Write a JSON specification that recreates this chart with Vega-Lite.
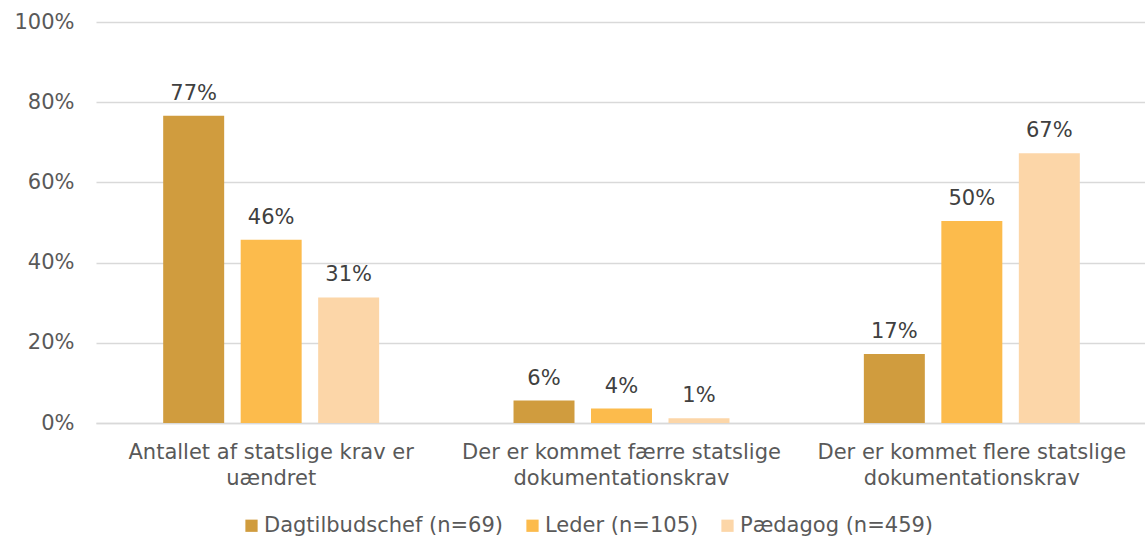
{
  "$schema": "https://vega.github.io/schema/vega-lite/v6.json",
  "autosize": {"type": "none"},
  "padding": {"left": 96, "top": 22, "right": 0, "bottom": 134},
  "width": 1051,
  "height": 401,
  "background": "white",
  "config": {
    "font": "DejaVu Sans",
    "view": {"stroke": null},
    "axis": {"labelColor": "#595959", "labelFont": "DejaVu Sans", "labelFontSize": 21},
    "legend": {"labelColor": "#595959", "labelFont": "DejaVu Sans", "labelFontSize": 21}
  },
  "data": {
    "values": [
      {"cat": "Antallet af statslige krav er|uændret", "grp": "Dagtilbudschef (n=69)", "v": 0.766},
      {"cat": "Antallet af statslige krav er|uændret", "grp": "Leder (n=105)", "v": 0.457},
      {"cat": "Antallet af statslige krav er|uændret", "grp": "Pædagog (n=459)", "v": 0.313},
      {"cat": "Der er kommet færre statslige|dokumentationskrav", "grp": "Dagtilbudschef (n=69)", "v": 0.056},
      {"cat": "Der er kommet færre statslige|dokumentationskrav", "grp": "Leder (n=105)", "v": 0.036},
      {"cat": "Der er kommet færre statslige|dokumentationskrav", "grp": "Pædagog (n=459)", "v": 0.012},
      {"cat": "Der er kommet flere statslige|dokumentationskrav", "grp": "Dagtilbudschef (n=69)", "v": 0.172},
      {"cat": "Der er kommet flere statslige|dokumentationskrav", "grp": "Leder (n=105)", "v": 0.504},
      {"cat": "Der er kommet flere statslige|dokumentationskrav", "grp": "Pædagog (n=459)", "v": 0.673}
    ]
  },
  "encoding": {
    "x": {
      "field": "cat", "type": "nominal", "sort": null,
      "scale": {"paddingInner": 0, "paddingOuter": 0},
      "axis": {
        "title": null, "labelAngle": 0, "ticks": false, "domain": true,
        "domainColor": "#d9d9d9", "domainWidth": 1.5,
        "labelExpr": "split(datum.label, '|')", "labelLineHeight": 26,
        "labelPadding": 18, "labelLimit": 400
      }
    },
    "xOffset": {"field": "grp", "type": "nominal", "sort": null,
      "scale": {"paddingInner": 0.213, "paddingOuter": 0.867}},
    "y": {
      "field": "v", "type": "quantitative",
      "scale": {"domain": [0, 1], "nice": false},
      "axis": {
        "title": null, "format": ".0%", "values": [0, 0.2, 0.4, 0.6, 0.8, 1],
        "domain": false, "ticks": false, "labelPadding": 22,
        "gridColor": "#d9d9d9", "gridWidth": 1.5
      }
    }
  },
  "layer": [
    {
      "mark": {"type": "bar"},
      "encoding": {
        "color": {
          "field": "grp", "type": "nominal", "sort": null,
          "scale": {
            "domain": ["Dagtilbudschef (n=69)", "Leder (n=105)", "Pædagog (n=459)"],
            "range": ["#D09C3E", "#FCBB4C", "#FCD6A8"]
          },
          "legend": {
            "title": null, "orient": "none", "direction": "horizontal",
            "legendX": 145, "legendY": 493,
            "symbolType": "square", "symbolSize": 150, "symbolStrokeWidth": 0,
            "columnPadding": 18, "labelOffset": 2, "labelLimit": 400
          }
        }
      }
    },
    {
      "mark": {"type": "text", "baseline": "alphabetic", "dy": -16, "fontSize": 21, "color": "#404040"},
      "encoding": {
        "text": {"field": "v", "type": "quantitative", "format": ".0%"}
      }
    }
  ]
}
